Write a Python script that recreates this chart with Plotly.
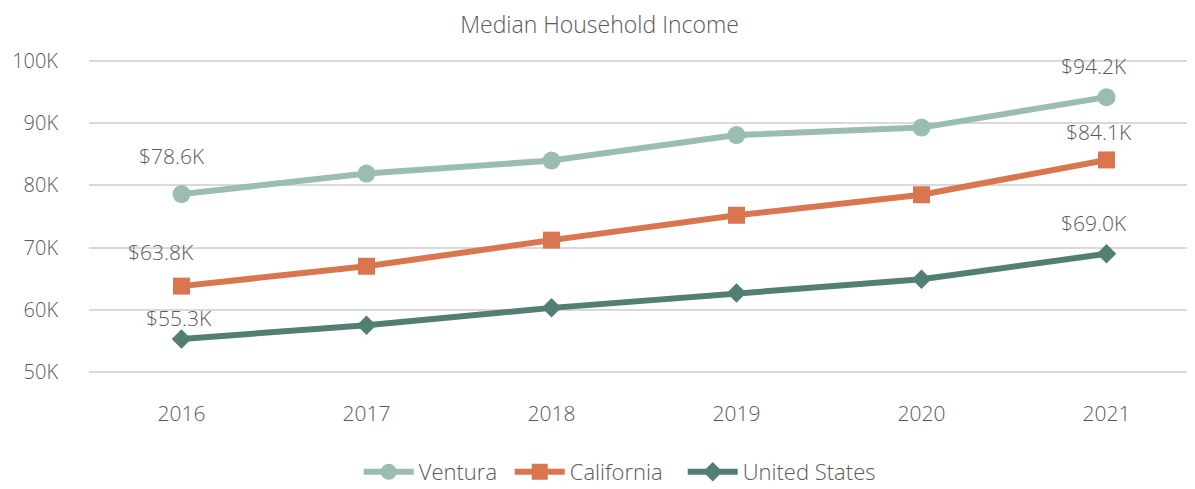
import plotly.graph_objects as go

years = ["2016", "2017", "2018", "2019", "2020", "2021"]
ventura = [78.6, 81.9, 84.0, 88.1, 89.3, 94.2]
california = [63.8, 67.0, 71.2, 75.2, 78.5, 84.1]
united_states = [55.3, 57.5, 60.3, 62.7, 64.9, 69.0]
y_ticks = [50, 60, 70, 80, 90, 100]

FONT = "Open Sans, sans-serif"
GREY = "#595959"

# name, values, colour, marker, marker size,
# label offsets (x, y) for first and last point, legend width
series = [
    ("Ventura", ventura, "#9bbcb0", "circle", 18, ((-10, 38), (-13, 31)), 86),
    ("California", california, "#d9764f", "square", 17, ((-21, 34), (-8, 28)), 108),
    ("United States", united_states, "#527f73", "diamond", 15, ((-3, 21), (-13, 31)), None),
]

fig = go.Figure()
for name, vals, color, symbol, size, offsets, lw in series:
    fig.add_trace(go.Scatter(
        x=years, y=vals, name=name, mode="lines+markers",
        line=dict(color=color, width=6),
        marker=dict(symbol=symbol, size=size, color=color),
        legendwidth=lw,
    ))
    # labels only on first and last points (x given as category index,
    # numeric-looking strings would be read as numbers)
    for i, (dx, dy) in zip((0, len(vals) - 1), offsets):
        fig.add_annotation(
            x=i, y=vals[i], text="$%.1fK" % vals[i],
            showarrow=False, xshift=dx, yshift=dy,
            font=dict(family=FONT, size=21, color=GREY, weight=300),
        )

fig.update_layout(
    width=1195, height=489,
    paper_bgcolor="white", plot_bgcolor="white",
    margin=dict(l=75, r=4, t=50, b=120),
    title=dict(text="Median Household Income", x=0.495, xanchor="center",
               y=0.966, yanchor="middle",
               font=dict(family=FONT, size=23, color=GREY, weight=300)),
    font=dict(family=FONT, color=GREY, weight=300),
    legend=dict(orientation="h", x=0.243, xanchor="left", y=-0.306, yanchor="middle",
                font=dict(family=FONT, size=22, color=GREY, weight=300),
                itemwidth=50, tracegroupgap=0),
    xaxis=dict(type="category", showgrid=False, showline=False, ticks="",
               tickfont=dict(family=FONT, size=21, color=GREY, weight=300),
               ticklabelstandoff=24, range=[-0.5, 5.5]),
    yaxis=dict(range=[49.5, 100.5], tickvals=y_ticks,
               ticktext=["%dK" % v for v in y_ticks],
               showgrid=True, gridcolor="#d9d9d9", gridwidth=1.5,
               zeroline=False, showline=False,
               tickfont=dict(family=FONT, size=20, color=GREY, weight=300),
               ticklabelstandoff=30),
)

fig.write_html("out.html")
